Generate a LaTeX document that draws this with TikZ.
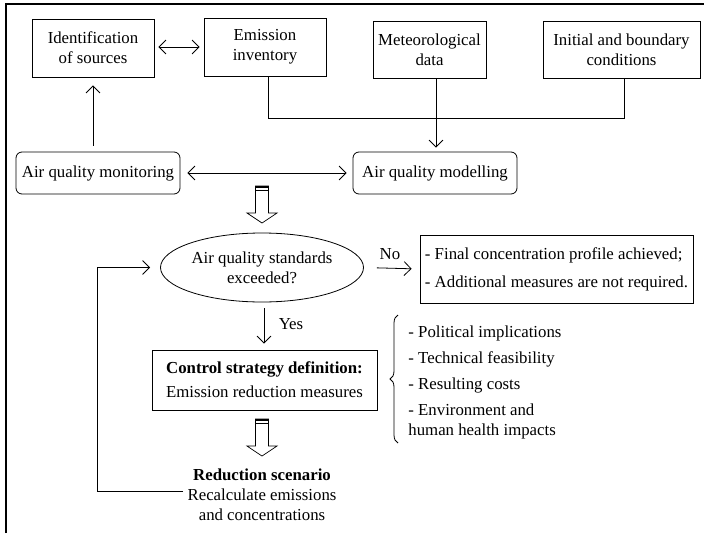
\documentclass[tikz,border=0pt]{standalone}
\usepackage{fontspec}
\setmainfont{Liberation Serif}
\usetikzlibrary{arrows.meta,shapes.geometric,decorations.pathreplacing}

\begin{document}
\begin{tikzpicture}[x=1pt, y=-1pt, line width=0.8pt,
    every node/.style={font=\fontsize{16.8}{20}\selectfont},
    box/.style={draw, align=center, inner sep=0pt},
    roundbox/.style={box, rounded corners=6pt},
    arr/.style={-{Straight Barb[length=7pt,width=14pt]}},
    dblarr/.style={{Straight Barb[length=7pt,width=14pt]}-{Straight Barb[length=7pt,width=14pt]}}]
  \useasboundingbox (0,0) rectangle (704,533);
  % frame
  \draw[line width=1.6pt] (6,533) -- (6,4) -- (704,4);
  % input boxes
  \node[box, minimum width=122, minimum height=58] (ident) at (93,48) {Identification\\of sources};
  \node[box, minimum width=122, minimum height=58] (inv) at (265,47) {Emission\\inventory};
  \node[box, minimum width=113, minimum height=57] (meteo) at (429.5,49.5) {Meteorological\\data};
  \node[box, minimum width=157, minimum height=57] (bound) at (621.5,49.5) {Initial and boundary\\conditions};
  \node[roundbox, minimum width=164, minimum height=42] (monit) at (98,173) {Air quality monitoring};
  \node[roundbox, minimum width=164, minimum height=42] (model) at (435,173) {Air quality modelling};
  % decision
  \node[draw, ellipse, align=center, inner sep=0pt, minimum width=203, minimum height=69] (stand) at (262,267.5) {Air quality standards\\exceeded?};
  \node[box, align=left, minimum width=273, minimum height=68] (final) at (556.5,269)
    {- Final concentration profile achieved;\\[8pt]- Additional measures are not required.};
  \node[box, minimum width=225, minimum height=60] (ctrl) at (264.5,380)
    {\textbf{Control strategy definition:}\\[4pt]Emission reduction measures};
  \node[align=center, inner sep=0pt] (scen) at (262,495)
    {\textbf{Reduction scenario}\\Recalculate emissions\\and concentrations};
  \node[align=left, anchor=north west, inner sep=0pt] (crit) at (408,325)
    {- Political implications\\[6pt]- Technical feasibility\\[6pt]- Resulting costs\\[6pt]- Environment and\\human health impacts};
  % connectors
  \draw[dblarr, shorten <=4pt, shorten >=4pt] (ident.east |- inv.east) -- (inv.west);
  \draw[arr, shorten <=6pt, shorten >=8pt] (monit.north -| ident.south) -- (ident.south);
  \draw[dblarr, shorten <=7pt, shorten >=6pt] (monit.east) -- (model.west);
  \draw ([xshift=3pt]inv.south) -- ([xshift=3pt]inv.south |- 0,118) -- ([xshift=3pt]bound.south |- 0,118) -- ([xshift=3pt]bound.south);
  \draw[arr, shorten >=4pt] ([xshift=6.5pt]meteo.south) -- ([xshift=6.5pt]meteo.south |- model.north);
  \draw[arr, shorten <=13pt, shorten >=8pt] (stand.east) -- (final.west);
  \node[inner sep=0pt] (no) at (390,254) {No};
  \draw[arr, shorten <=6pt, shorten >=6pt] ([xshift=2pt]stand.south) -- ([xshift=2pt]stand.south |- ctrl.north);
  \node[inner sep=0pt] (yes) at (291,324) {Yes};
  \coordinate (loopbot) at (97,491);
  \draw[arr, shorten >=10pt] ([xshift=-4pt]scen.west |- loopbot) -- (loopbot) |- (stand.west);
  % brace
  \draw[decorate, decoration={brace, amplitude=8pt, aspect=0.5}] (398,443) -- (398,315);
  % hollow arrows
  \foreach \ay in {186,419} {
    \draw[line width=0.7pt] (255.5,\ay) -- (255.5,\ay+27) -- (247,\ay+27) -- (262,\ay+37) -- (277,\ay+27) -- (268.5,\ay+27) -- (268.5,\ay) -- cycle;
    \draw[line width=1.8pt] (255.5,\ay+1) -- (268.5,\ay+1);
    \draw[line width=0.7pt] (255.5,\ay+4) -- (268.5,\ay+4);
  }
\end{tikzpicture}
\end{document}
